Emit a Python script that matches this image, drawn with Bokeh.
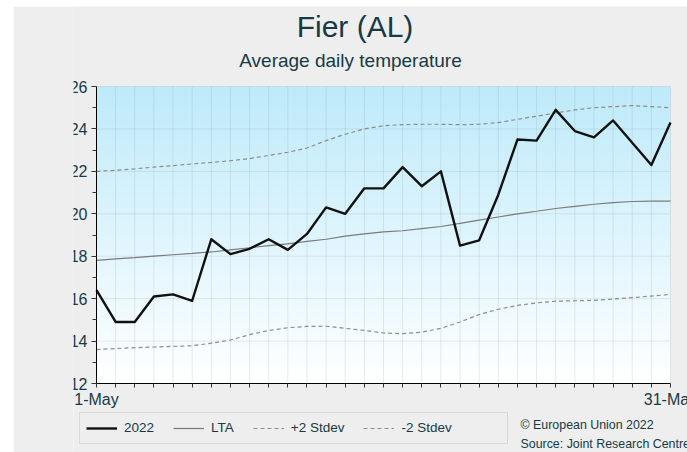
import numpy as np
from bokeh.plotting import figure
from bokeh.models import (Range1d, FixedTicker, Legend, LegendItem, Label, Spacer,
                          BoxAnnotation)
from bokeh.layouts import column, row
from bokeh.embed import file_html
from bokeh.resources import INLINE

# ---------------- data ----------------
days = list(range(1, 32))
x_tick_labels = {1: "1-May", 31: "31-May"}
y_major_ticks = [12, 14, 16, 18, 20, 22, 24, 26]
y_minor_ticks = list(range(12, 27))

t2022 = [16.4, 14.9, 14.9, 16.1, 16.2, 15.9, 18.8, 18.1, 18.35, 18.8,
         18.3, 19.05, 20.3, 20.0, 21.2, 21.2, 22.2, 21.3, 22.0, 18.5,
         18.75, 20.9, 23.5, 23.45, 24.9, 23.9, 23.6, 24.4, 23.35, 22.3, 24.3]
lta = [17.8, 17.87, 17.93, 18.0, 18.07, 18.13, 18.2, 18.3, 18.4, 18.5,
       18.58, 18.7, 18.8, 18.95, 19.05, 19.15, 19.2, 19.3, 19.4, 19.55,
       19.7, 19.85, 20.0, 20.12, 20.25, 20.35, 20.45, 20.53, 20.58, 20.6, 20.6]
plus2 = [22.0, 22.05, 22.12, 22.2, 22.27, 22.35, 22.42, 22.5, 22.6, 22.75,
         22.9, 23.1, 23.45, 23.75, 24.0, 24.15, 24.2, 24.22, 24.22, 24.2,
         24.22, 24.3, 24.45, 24.6, 24.75, 24.9, 25.0, 25.05, 25.1, 25.05, 25.0]
minus2 = [13.6, 13.65, 13.69, 13.72, 13.75, 13.78, 13.9, 14.05, 14.3, 14.5,
          14.63, 14.69, 14.7, 14.6, 14.5, 14.38, 14.35, 14.42, 14.6, 14.9,
          15.25, 15.5, 15.68, 15.8, 15.88, 15.9, 15.92, 15.98, 16.05, 16.12, 16.2]

title_text = "Fier (AL)"
subtitle_text = "Average daily temperature"
y_label = "°C"
legend_labels = ["2022", "LTA", "+2 Stdev", "-2 Stdev"]
credit_lines = ["© European Union 2022", "Source: Joint Research Centre"]

# ---------------- layout (page pixels) ----------------
BG = "#eeeeee"
TXT = "#173a45"
FONT = "Liberation Sans"
OFF_X, OFF_Y = 13, 6          # white strips left / top
W, H = 674, 446               # figure size
BORDER_L = 60                 # room for the y axis
FR_L, FR_R, FR_T, FR_B = OFF_X + BORDER_L, OFF_X + W, OFF_Y, OFF_Y + H
PA_L, PA_R, PA_T, PA_B = 96, 670, 86, 383   # plot area in page pixels


def sx(px):
    return px - FR_L


def sy(py):
    return FR_B - py


x0, x1 = days[0], days[-1]
y0, y1 = y_major_ticks[0], y_major_ticks[-1]
ppx = (PA_R - PA_L) / (x1 - x0)
ppy = (PA_B - PA_T) / (y1 - y0)
xr = Range1d(x0 - (PA_L - FR_L) / ppx, x1 + (FR_R - PA_R) / ppx)
yr = Range1d(y0 - (FR_B - PA_B) / ppy, y1 + (PA_T - FR_T) / ppy)

STYLE = {
    "2022": dict(line_color="#111111", line_width=2.4, line_join="round"),
    "LTA": dict(line_color="#7a7a7a", line_width=1.2),
    "+2": dict(line_color="#8c8c8c", line_width=1.2, line_dash="4 3"),
    "-2": dict(line_color="#8c8c8c", line_width=1.2, line_dash="4 3"),
}

p = figure(width=W, height=H, output_backend="svg", toolbar_location=None,
           x_range=xr, y_range=yr, x_axis_location="above",
           min_border_left=BORDER_L, min_border_right=0, min_border_top=0,
           min_border_bottom=0, background_fill_color=BG,
           border_fill_color=BG, outline_line_color=None)
p.title.visible = False
p.xgrid.visible = False
p.ygrid.visible = False

# gradient plot-area background (light sky-blue top to white bottom)
n = 256
frac = np.linspace(0.0, 1.0, n)
top_c = np.array([190, 234, 250], dtype=float)
bot_c = np.array([255, 255, 255], dtype=float)
img = np.empty((n, 1), dtype=np.uint32)
view = img.view(dtype=np.uint8).reshape((n, 1, 4))
for k in range(3):
    view[:, 0, k] = np.round(bot_c[k] + (top_c[k] - bot_c[k]) * frac).astype(np.uint8)
view[:, 0, 3] = 255
p.image_rgba(image=[img], x=x0, y=y0, dw=x1 - x0, dh=y1 - y0, level="image")

# grid lines limited to the plot area
grid_style = dict(line_color="#7f8a90", line_alpha=0.17, line_width=1)
p.segment(x0=days, y0=[y0] * len(days), x1=days, y1=[y1] * len(days), **grid_style)
p.segment(x0=[x0] * len(y_major_ticks), y0=y_major_ticks,
          x1=[x1] * len(y_major_ticks), y1=y_major_ticks, **grid_style)

# series
r_m2 = p.line(days, minus2, **STYLE["-2"])
r_p2 = p.line(days, plus2, **STYLE["+2"])
r_lta = p.line(days, lta, **STYLE["LTA"])
r_22 = p.line(days, t2022, **STYLE["2022"])

# x axis: sits on y=12, ticks pointing down
xa = p.xaxis[0]
xa.fixed_location = y0
xa.bounds = (x0, x1)
xa.ticker = FixedTicker(ticks=days)
xa.major_label_overrides = {d: "" for d in days}
xa.major_label_text_font_size = "0px"
xa.major_label_standoff = 0
xa.major_tick_out = 0
xa.major_tick_in = 4
xa.minor_tick_line_color = None
xa.axis_line_color = "#000000"
xa.major_tick_line_color = "#333333"
for d, lab in x_tick_labels.items():
    p.add_layout(Label(x=d, y=sy(398.5), x_units="data", y_units="screen", text=lab,
                       text_align="center", text_baseline="middle",
                       text_font=FONT, text_font_size="16px", text_color=TXT))

# y axis: sits on day 1
ya = p.yaxis[0]
ya.fixed_location = x0
ya.bounds = (y0, y1)
ya.ticker = FixedTicker(ticks=y_major_ticks, minor_ticks=y_minor_ticks)
ya.major_tick_out = 5
ya.major_tick_in = 0
ya.minor_tick_out = 4
ya.minor_tick_in = 0
ya.axis_line_color = "#000000"
ya.major_tick_line_color = "#333333"
ya.minor_tick_line_color = "#333333"
ya.major_label_standoff = 4
ya.major_label_text_font = FONT
ya.major_label_text_font_size = "16px"
ya.major_label_text_color = TXT
ya.axis_label = y_label
ya.axis_label_standoff = 2
ya.axis_label_text_font_style = "normal"
ya.axis_label_text_font_size = "14px"
ya.axis_label_text_color = TXT
ya.axis_label_text_font = FONT

# titles
p.add_layout(Label(x=sx(354.5), y=sy(25.5), x_units="screen", y_units="screen",
                   text=title_text, text_align="center", text_baseline="middle",
                   text_font=FONT, text_font_size="30px", text_color=TXT))
p.add_layout(Label(x=sx(350), y=sy(60), x_units="screen", y_units="screen",
                   text=subtitle_text, text_align="center", text_baseline="middle",
                   text_font=FONT, text_font_size="19px", text_color=TXT))

# legend box + legend
p.add_layout(BoxAnnotation(left=sx(79), right=sx(507), top=sy(412), bottom=sy(443),
                           left_units="screen", right_units="screen",
                           top_units="screen", bottom_units="screen",
                           fill_alpha=0, line_color="#a8a8a8", line_width=1))
legend = Legend(items=[LegendItem(label=legend_labels[0], renderers=[r_22]),
                       LegendItem(label=legend_labels[1], renderers=[r_lta]),
                       LegendItem(label=legend_labels[2], renderers=[r_p2]),
                       LegendItem(label=legend_labels[3], renderers=[r_m2])],
                orientation="horizontal", location=(sx(79), sy(443)),
                glyph_width=31, glyph_height=14, label_height=17,
                label_standoff=7, spacing=19, padding=7, margin=0,
                label_text_font=FONT, label_text_font_size="13.5px",
                label_text_color=TXT, border_line_alpha=0,
                background_fill_alpha=0)
p.add_layout(legend)

# credits
for txt, mid in zip(credit_lines, (424, 443)):
    p.add_layout(Label(x=sx(520), y=sy(mid), x_units="screen", y_units="screen",
                       text=txt, text_align="left", text_baseline="middle",
                       text_font=FONT, text_font_size="12.4px", text_color=TXT))

page = column(Spacer(width=687, height=OFF_Y),
              row(Spacer(width=OFF_X, height=H), p, spacing=0),
              spacing=0)

open("out.html", "w").write(file_html(page, INLINE))
